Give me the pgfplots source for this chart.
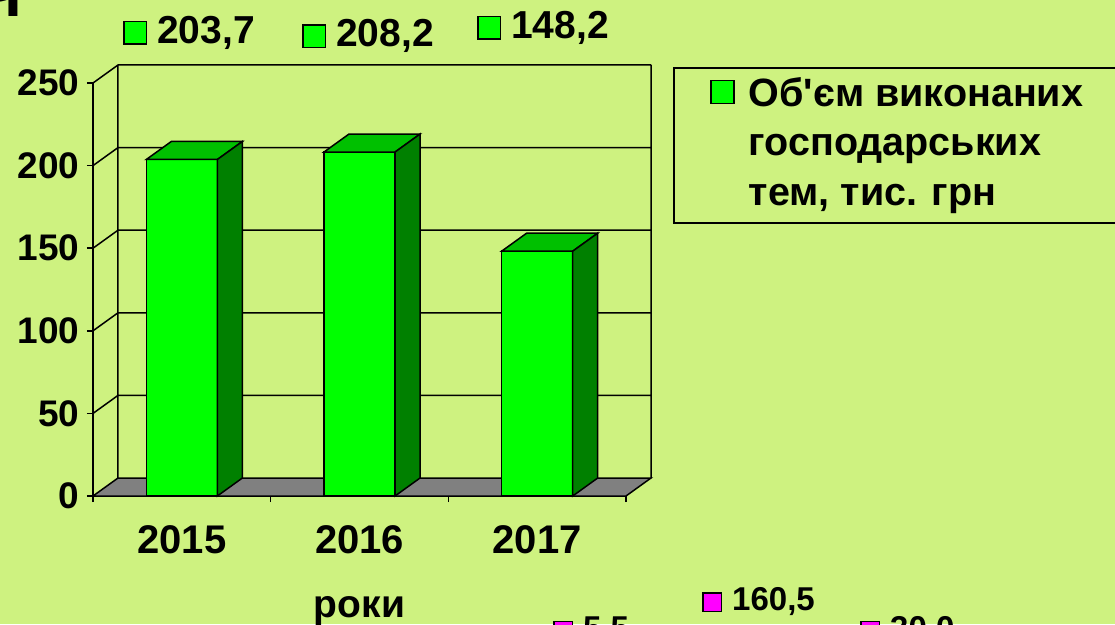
\documentclass[border=0pt]{standalone}
\usepackage{fontspec}
\setmainfont{Liberation Sans}[Ligatures=TeXOff]
\usepackage{pgfplots}
\pgfplotsset{compat=1.18}
\definecolor{bg}{RGB}{206,242,128}
\definecolor{barfront}{RGB}{0,255,0}
\definecolor{bartop}{RGB}{0,192,0}
\definecolor{barside}{RGB}{0,128,0}
\definecolor{floorc}{RGB}{128,128,128}
\definecolor{mag}{RGB}{255,0,255}
\newcommand\keybox[2]{{\setlength\fboxsep{0pt}\setlength\fboxrule{1.5pt}\fcolorbox{black}{#1}{\rule{0pt}{#2}\hspace{#2}}}}
\begin{document}
\begin{tikzpicture}
\fill[bg] (0,0) rectangle (1115pt,-624pt);
\path[use as bounding box] (0,0) rectangle (1115pt,-624pt);
\node[anchor=south east, inner sep=0pt, font=\fontsize{62}{62}\selectfont\bfseries] at (22pt,-17pt) {Ч};
\begin{axis}[
  at={(93pt,-496pt)}, anchor=south west,
  scale only axis, width=533pt, height=413pt,
  xmin=0, xmax=3, ymin=0, ymax=250,
  clip=false,
  axis lines*=left,
  axis line style={line width=1.5pt},
  every tick/.style={black, line width=1.5pt},
  tick align=outside, major tick length=6pt,
  ytick={0,50,100,150,200,250},
  yticklabel style={xshift=-4pt},
  xtick={0,1,2,3}, xticklabels={,,,},
  extra x ticks={0.5,1.5,2.5},
  extra x tick labels={2015,2016,2017},
  extra x tick style={major tick length=0pt, xticklabel style={yshift=-26pt, font=\fontsize{40}{40}\selectfont\bfseries}},
  every tick label/.append style={font=\fontsize{37}{37}\selectfont\bfseries},
  /pgf/number format/assume math mode=true,
  xlabel={роки},
  xlabel style={at={(axis description cs:0.5,0)}, anchor=base, yshift=-121pt, font=\fontsize{39}{39}\selectfont\bfseries},
  legend style={at={(axis cs:3.473,257.0)}, anchor=north west, draw=none, fill=none,
    inner sep=0pt, nodes={inner sep=0pt},
    font=\fontsize{39.5}{49.5}\selectfont\bfseries,
    /tikz/every odd column/.append style={column sep=14pt}},
  legend cell align=left,
  legend image code/.code={\draw[fill=barfront, draw=black, line width=1.5pt] (0pt,-14pt) rectangle (23pt,9pt);},
]
% floor
\addplot[forget plot, fill=floorc, draw=black, line width=1.5pt] coordinates {(0,0) (3,0) (3.1407,10.9) (0.1407,10.9)} -- cycle;
% back wall and side wall lines
\addplot[forget plot, black, line width=1.5pt, unbounded coords=jump] coordinates {
 (0.1407,60.9) (3.1407,60.9) (nan,nan)
 (0.1407,110.9) (3.1407,110.9) (nan,nan)
 (0.1407,160.9) (3.1407,160.9) (nan,nan)
 (0.1407,210.9) (3.1407,210.9) (nan,nan)
 (0.1407,260.9) (3.1407,260.9) (nan,nan)
 (0.1407,10.9) (0.1407,260.9) (nan,nan)
 (3.1407,10.9) (3.1407,260.9) (nan,nan)
 (0,50) (0.1407,60.9) (nan,nan)
 (0,100) (0.1407,110.9) (nan,nan)
 (0,150) (0.1407,160.9) (nan,nan)
 (0,200) (0.1407,210.9) (nan,nan)
 (0,250) (0.1407,260.9)
};
% bars: front faces
\addplot[ybar, bar width=0.4, fill=barfront, draw=black, line width=1.5pt]
  coordinates {(0.5,203.7) (1.5,208.2) (2.5,148.2)};
\addlegendentry{\begin{tabular}[t]{@{}l@{}}Об'єм виконаних\\господарських\\тем, тис. грн\end{tabular}}
% top faces
\addplot[forget plot, fill=bartop, draw=black, line width=1.5pt] coordinates {(0.3,203.7) (0.7,203.7) (0.8407,214.6) (0.4407,214.6)} -- cycle;
\addplot[forget plot, fill=bartop, draw=black, line width=1.5pt] coordinates {(1.3,208.2) (1.7,208.2) (1.8407,219.1) (1.4407,219.1)} -- cycle;
\addplot[forget plot, fill=bartop, draw=black, line width=1.5pt] coordinates {(2.3,148.2) (2.7,148.2) (2.8407,159.1) (2.4407,159.1)} -- cycle;
% side faces
\addplot[forget plot, fill=barside, draw=black, line width=1.5pt] coordinates {(0.7,0) (0.7,203.7) (0.8407,214.6) (0.8407,10.9)} -- cycle;
\addplot[forget plot, fill=barside, draw=black, line width=1.5pt] coordinates {(1.7,0) (1.7,208.2) (1.8407,219.1) (1.8407,10.9)} -- cycle;
\addplot[forget plot, fill=barside, draw=black, line width=1.5pt] coordinates {(2.7,0) (2.7,148.2) (2.8407,159.1) (2.8407,10.9)} -- cycle;
% legend box
\draw[black, line width=1.5pt] (axis cs:3.270,259.1) rectangle (axis cs:5.9,165.3);
% data labels
\node[anchor=base west, inner sep=0pt, font=\fontsize{39}{39}\selectfont\bfseries] at (axis cs:0.169,274.2) {\keybox{barfront}{21pt}\hspace{10pt}203,7};
\node[anchor=base west, inner sep=0pt, font=\fontsize{39}{39}\selectfont\bfseries] at (axis cs:1.176,271.8) {\keybox{barfront}{21pt}\hspace{10pt}208,2};
\node[anchor=base west, inner sep=0pt, font=\fontsize{39}{39}\selectfont\bfseries] at (axis cs:2.161,277.2) {\keybox{barfront}{21pt}\hspace{10pt}148,2};
\node[anchor=base west, inner sep=0pt, font=\fontsize{33}{33}\selectfont\bfseries] at (axis cs:3.428,-69.6) {\keybox{mag}{17pt}\hspace{10pt}160,5};
\node[anchor=base west, inner sep=0pt, font=\fontsize{33}{33}\selectfont\bfseries] at (axis cs:2.589,-86.6) {\keybox{mag}{17pt}\hspace{10pt}5,5};
\node[anchor=base west, inner sep=0pt, font=\fontsize{33}{33}\selectfont\bfseries] at (axis cs:4.317,-86.6) {\keybox{mag}{17pt}\hspace{10pt}30,0};
\end{axis}
\end{tikzpicture}
\end{document}
